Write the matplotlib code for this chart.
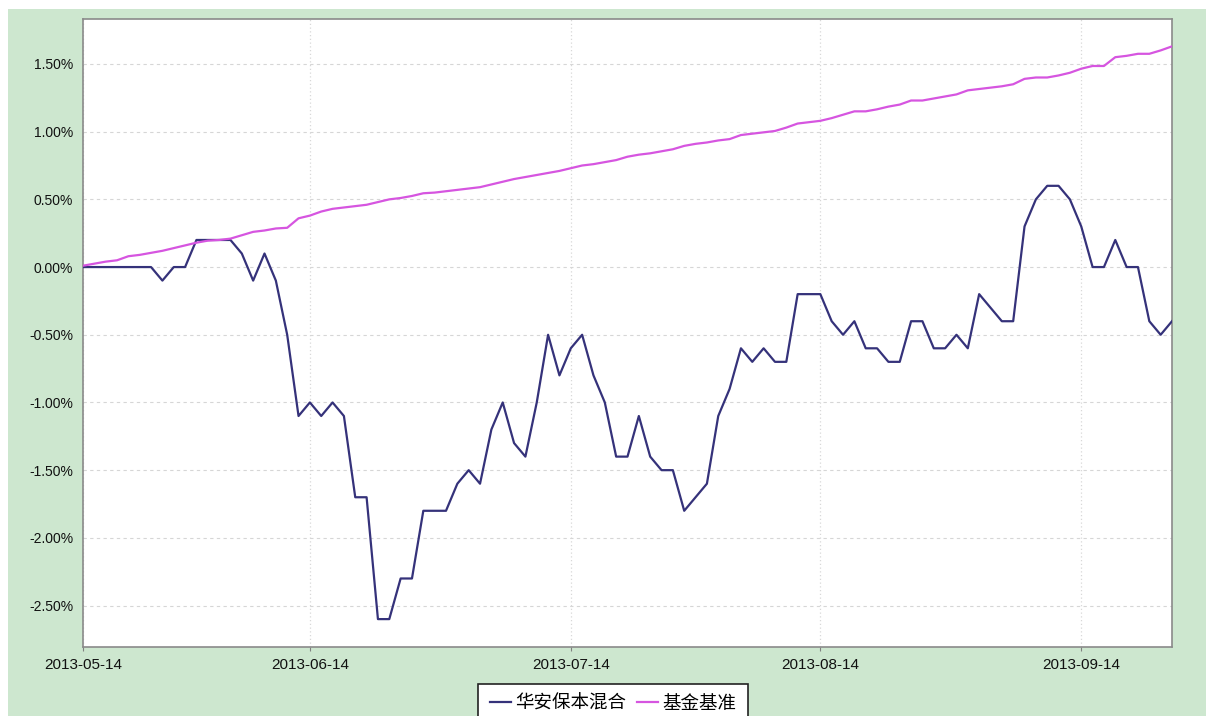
import numpy as np
import matplotlib
matplotlib.use("Agg")
import matplotlib.pyplot as plt
from matplotlib.patches import Rectangle
from matplotlib.ticker import FuncFormatter

plt.rcParams['font.family'] = ['Liberation Sans', 'Noto Sans CJK SC', 'DejaVu Sans']

# trading-day series (percent)
fund = [0.0, 0.0, 0.0, 0.0, 0.0, 0.0, 0.0, -0.1, 0.0, 0.0,
        0.2, 0.2, 0.2, 0.2, 0.1, -0.1, 0.1, -0.1, -0.5, -1.1,
        -1.0, -1.1, -1.0, -1.1, -1.7, -1.7, -2.6, -2.6, -2.3, -2.3,
        -1.8, -1.8, -1.8, -1.6, -1.5, -1.6, -1.2, -1.0, -1.3, -1.4,
        -1.0, -0.5, -0.8, -0.6, -0.5, -0.8, -1.0, -1.4, -1.4, -1.1,
        -1.4, -1.5, -1.5, -1.8, -1.7, -1.6, -1.1, -0.9, -0.6, -0.7,
        -0.6, -0.7, -0.7, -0.2, -0.2, -0.2, -0.4, -0.5, -0.4, -0.6,
        -0.6, -0.7, -0.7, -0.4, -0.4, -0.6, -0.6, -0.5, -0.6, -0.2,
        -0.3, -0.4, -0.4, 0.3, 0.5, 0.6, 0.6, 0.5, 0.3, 0.0,
        0.0, 0.2, 0.0, 0.0, -0.4, -0.5, -0.4]

bench = [0.01, 0.025, 0.04, 0.05, 0.08, 0.09, 0.105, 0.12, 0.14, 0.16,
         0.18, 0.195, 0.20, 0.21, 0.235, 0.26, 0.27, 0.285, 0.29, 0.36,
         0.38, 0.41, 0.43, 0.44, 0.45, 0.46, 0.48, 0.50, 0.51, 0.525,
         0.545, 0.55, 0.56, 0.57, 0.58, 0.59, 0.61, 0.63, 0.65, 0.665,
         0.68, 0.695, 0.71, 0.73, 0.75, 0.76, 0.775, 0.79, 0.815, 0.83,
         0.84, 0.855, 0.87, 0.895, 0.91, 0.92, 0.935, 0.945, 0.975, 0.985,
         0.995, 1.005, 1.03, 1.06, 1.07, 1.08, 1.10, 1.125, 1.15, 1.15,
         1.165, 1.185, 1.20, 1.23, 1.23, 1.245, 1.26, 1.275, 1.305, 1.315,
         1.325, 1.335, 1.35, 1.39, 1.40, 1.40, 1.415, 1.435, 1.465, 1.485,
         1.485, 1.55, 1.56, 1.575, 1.575, 1.60, 1.63]

series_names = ["华安保本混合", "基金基准"]
date_labels = ["2013-05-14", "2013-06-14", "2013-07-14", "2013-08-14", "2013-09-14"]
date_index = [0, 20, 43, 65, 88]
y_ticks = [-2.5, -2.0, -1.5, -1.0, -0.5, 0.0, 0.5, 1.0, 1.5]

W, H = 1206, 716
fig = plt.figure(figsize=(W / 100, H / 100), dpi=100, facecolor="white")
# green panel behind the chart
bg = Rectangle((8 / W, 0), 1, 1 - 9 / H, transform=fig.transFigure,
               facecolor="#cde7cf", edgecolor="none", zorder=-5)
fig.add_artist(bg)

ax = fig.add_axes([83 / W, 1 - 647 / H, (1172 - 83) / W, (647 - 19) / H])
ax.set_zorder(1)
ax.set_facecolor("white")

x = np.arange(len(fund))
ax.plot(x, fund, color="#35327a", lw=1.6, label=series_names[0], zorder=3)
ax.plot(x, bench, color="#d655e0", lw=1.6, label=series_names[1], zorder=3)

ax.set_xlim(0, len(fund) - 1)
ax.set_ylim(-2.806, 1.832)
ax.set_yticks(y_ticks)
ax.yaxis.set_major_formatter(FuncFormatter(lambda v, _: f"{v:.2f}%"))
ax.set_xticks(date_index)
ax.set_xticklabels(date_labels)

ax.tick_params(axis="y", length=0, pad=7, labelsize=10, colors="#111111")
ax.tick_params(axis="x", length=3, pad=5, labelsize=11, colors="#111111",
               direction="out")
ax.tick_params(axis="x", color="#808080")

ax.grid(axis="y", color="#d6d6d6", ls=(0, (3, 3)), lw=0.8)
ax.grid(axis="x", color="#d8d8d8", ls=(0, (1, 2)), lw=0.9)
for s in ax.spines.values():
    s.set_color("#8a8a8a")
    s.set_linewidth(1.2)

leg = fig.legend(loc="upper center", bbox_to_anchor=(613 / W, 1 - 684 / H),
                 ncol=2, frameon=True, fancybox=False, fontsize=13.3,
                 handlelength=1.15, handletextpad=0.25, columnspacing=0.55,
                 borderpad=0.6, borderaxespad=0)
leg.set_zorder(5)
leg.get_frame().set_edgecolor("#222222")
leg.get_frame().set_linewidth(1.2)
leg.get_frame().set_alpha(1)

fig.savefig("out.png", dpi=100, facecolor=fig.get_facecolor())
